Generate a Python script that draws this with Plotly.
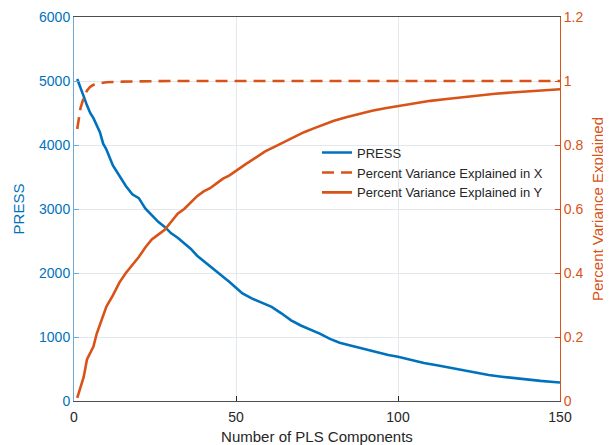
import plotly.graph_objects as go

# PLS components (sampled) and PRESS values
press_x = [1, 2, 3, 4, 5, 6, 7, 8, 9, 10, 12, 14, 16, 18, 20, 22, 24, 26, 28, 30,
           32, 34, 36, 38, 40, 42, 44, 46, 48, 50, 52, 55, 58, 61, 64, 67, 70, 73,
           76, 79, 82, 85, 88, 91, 94, 97, 100, 104, 108, 112, 116, 120, 124, 128,
           132, 136, 140, 144, 148, 150]
press_y = [5030, 4880, 4760, 4620, 4500, 4420, 4300, 4200, 4020, 3930, 3680, 3520,
           3360, 3230, 3170, 3010, 2900, 2800, 2720, 2620, 2550, 2470, 2380, 2270,
           2190, 2110, 2030, 1940, 1860, 1770, 1680, 1600, 1530, 1470, 1370, 1260,
           1180, 1120, 1050, 970, 910, 870, 830, 790, 755, 720, 690, 640, 595, 560,
           520, 475, 435, 405, 380, 355, 335, 315, 298, 290]

# Percent variance explained in X
pvx_x = [1, 2, 3, 4, 5, 6, 8, 10, 15, 20, 30, 50, 75, 100, 125, 150]
pvx_y = [0.85, 0.915, 0.948, 0.97, 0.982, 0.988, 0.993, 0.996, 0.998, 0.999,
         1.0, 1.0, 1.0, 1.0, 1.0, 1.0]

# Percent variance explained in Y
pvy_x = [1, 2, 3, 4, 5, 6, 7, 8, 9, 10, 12, 14, 16, 18, 20, 22, 24, 26, 28, 30,
         32, 34, 36, 38, 40, 42, 44, 46, 48, 50, 53, 56, 59, 62, 65, 68, 71, 74,
         77, 80, 84, 88, 92, 96, 100, 105, 110, 115, 120, 125, 130, 135, 140, 145, 150]
pvy_y = [0.01, 0.04, 0.075, 0.13, 0.15, 0.17, 0.21, 0.24, 0.27, 0.295, 0.33, 0.37,
         0.40, 0.425, 0.45, 0.48, 0.505, 0.52, 0.535, 0.56, 0.585, 0.60, 0.62, 0.64,
         0.655, 0.665, 0.68, 0.695, 0.705, 0.72, 0.74, 0.76, 0.78, 0.795, 0.81,
         0.826, 0.84, 0.852, 0.863, 0.875, 0.887, 0.898, 0.907, 0.915, 0.922,
         0.931, 0.938, 0.944, 0.95, 0.955, 0.96, 0.964, 0.968, 0.971, 0.974]

BLUE = "#0072BD"
ORANGE = "#D95319"
FONT = "Liberation Sans"

fig = go.Figure()
fig.add_trace(go.Scatter(x=press_x, y=press_y, mode="lines", name="PRESS",
                         line=dict(color=BLUE, width=2.6), yaxis="y"))
fig.add_trace(go.Scatter(x=pvx_x, y=pvx_y, mode="lines",
                         name="Percent Variance Explained in X",
                         line=dict(color=ORANGE, width=2.6, dash="12px,7px"), yaxis="y2"))
fig.add_trace(go.Scatter(x=pvy_x, y=pvy_y, mode="lines",
                         name="Percent Variance Explained in Y",
                         line=dict(color=ORANGE, width=2.6), yaxis="y2"))

# page body has an 8px default margin, so the figure is sized to fit the window
fig.update_layout(
    width=603, height=437,
    margin=dict(l=66, r=51, t=9, b=44, autoexpand=False),
    paper_bgcolor="white", plot_bgcolor="white",
    font=dict(family=FONT, size=14, color="#262626"),
    showlegend=True,
    legend=dict(x=0.5, y=0.686, xanchor="left", yanchor="top",
                bgcolor="rgba(255,255,255,0)", borderwidth=0,
                font=dict(family=FONT, size=13, color="#262626"),
                tracegroupgap=0),
    xaxis=dict(range=[0, 150], tickvals=[0, 50, 100, 150], ticks="inside", ticklen=5,
               tickcolor="#262626", showline=True, linecolor="#4d4d4d", linewidth=1,
               mirror=True, showgrid=True, gridcolor="#E3E8EF", gridwidth=1,
               zeroline=False, automargin=False, ticklabelstandoff=3,
               tickfont=dict(size=14, color="#262626"),
               title=dict(text="Number of PLS Components", font=dict(size=15, color="#262626"),
                          standoff=8)),
    yaxis=dict(range=[0, 6000], tickvals=[0, 1000, 2000, 3000, 4000, 5000, 6000],
               ticks="inside", ticklen=5, tickcolor="#6FA8D6", showline=True,
               linecolor="#6FA8D6", linewidth=1, showgrid=True, gridcolor="#E3E8EF",
               zeroline=False, automargin=False, tickfont=dict(size=14, color=BLUE),
               title=dict(text="PRESS", font=dict(size=15, color=BLUE), standoff=10)),
    yaxis2=dict(range=[0, 1.2], tickvals=[0, 0.2, 0.4, 0.6, 0.8, 1.0, 1.2],
                ticktext=["0", "0.2", "0.4", "0.6", "0.8", "1", "1.2"],
                overlaying="y", side="right", ticks="inside", ticklen=5,
                tickcolor=ORANGE, showline=True, linecolor=ORANGE, linewidth=1,
                showgrid=False, zeroline=False, automargin=False,
                tickfont=dict(size=14, color=ORANGE),
                title=dict(text="Percent Variance Explained", font=dict(size=15, color=ORANGE),
                           standoff=10)),
)

fig.write_html("out.html")
